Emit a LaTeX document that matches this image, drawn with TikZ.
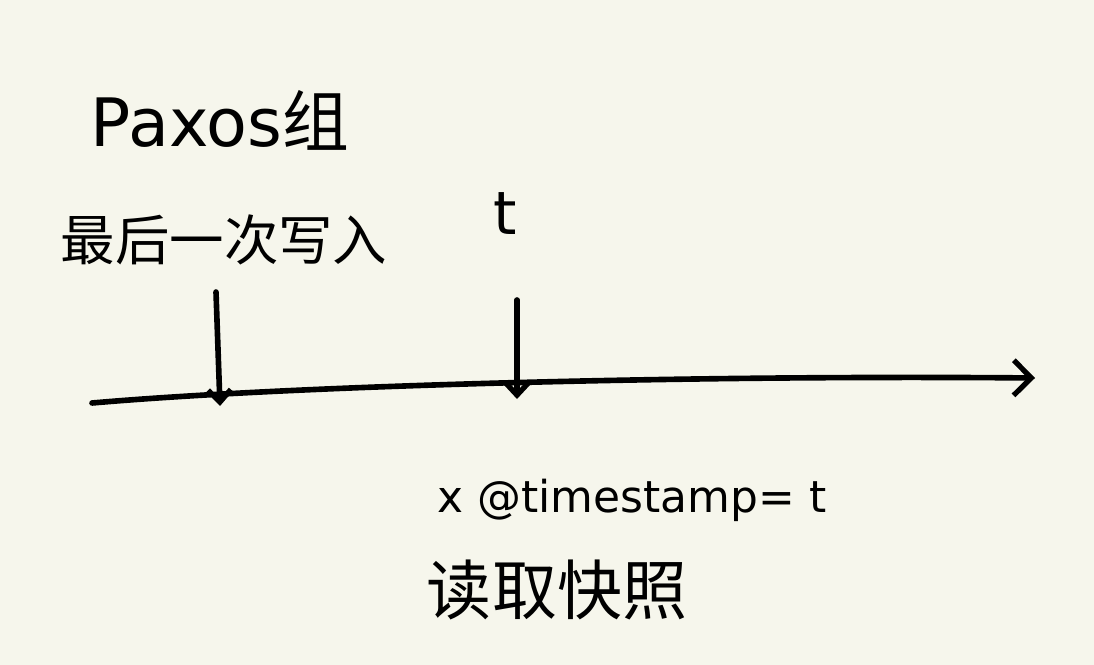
\documentclass[tikz,border=0pt]{standalone}
\usepackage{fontspec}
\newfontfamily\cjk{Noto Sans CJK SC}
\setmainfont{DejaVu Sans}
\usetikzlibrary{arrows.meta}
\definecolor{bg}{HTML}{F6F6EC}
\tikzset{
  ink/.style={line width=3.2pt, line cap=round, black},
  lbl/.style={inner sep=0pt, anchor=center, text=black},
  tip/.style={-{Straight Barb[length=10pt,width=20pt,line width=3pt]}},
  smalltip/.style={-{Straight Barb[length=7pt,width=13pt,line width=3pt]}}
}
\begin{document}
\begin{tikzpicture}[x=0.02cm,y=-0.02cm]
\fill[bg] (0,0) rectangle (1094,665);
\useasboundingbox (0,0) rectangle (1094,665);
% labels
\node[lbl, font=\fontsize{38}{42}\selectfont] (paxos) at (220,120) {Paxos\cjk 组};
\node[lbl, font=\fontsize{31}{34}\selectfont\cjk] (last) at (224,240) {最后一次写入};
\node[lbl, font=\fontsize{34}{38}\selectfont] (tlab) at (505,214) {t};
% axis
\coordinate (a0) at (92,403);
\coordinate (a1) at (1035,378);
\draw[ink, tip] (a0) .. controls (300,385) and (700,375) .. (a1);
% markers
\coordinate (m1s) at (216,292);
\coordinate (m1e) at (220,406);
\coordinate (m2s) at (517,300);
\coordinate (m2e) at (517,399);
\draw[ink, smalltip] (m1s) -- (m1e);
\draw[ink, smalltip] (m2s) -- (m2e);
% bottom labels
\node[lbl, font=\fontsize{25}{30}\selectfont] (snap) at (632,500) {x @timestamp= t};
\node[lbl, font=\fontsize{37}{40}\selectfont\cjk] (read) at (557,590) {读取快照};
\end{tikzpicture}
\end{document}
